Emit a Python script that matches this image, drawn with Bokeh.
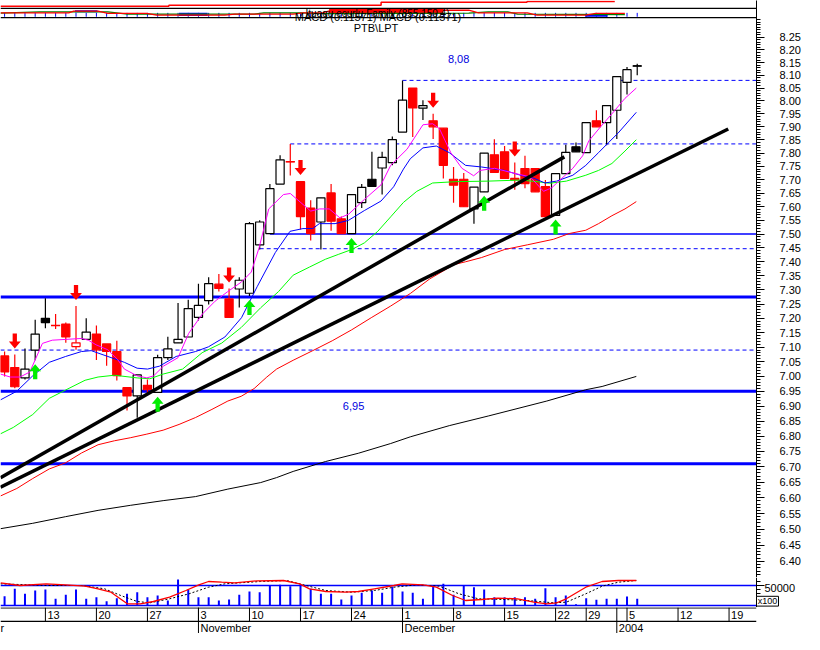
import math
from bokeh.plotting import figure
from bokeh.models import Range1d, FixedTicker, PrintfTickFormatter
from bokeh.layouts import column
from bokeh.embed import file_html
from bokeh.resources import INLINE
from bokeh.core.properties import value

FONT = "Liberation Sans"
BLUE = "#0000FF"
RED = "#FF0000"
MAGENTA = "#FF00FF"
BLACK = "#000000"

# ---------------- data ----------------
day_index = list(range(-4, 59))
open_px = [7.07, 7.03, 6.995, 7.09, 7.20, 7.175, 7.18, 7.102, 7.127, 7.145,
           7.111, 7.085, 6.962, 6.934, 6.97, 6.946, 7.064, 7.115, 7.135, 7.203,
           7.262, 7.32, 7.268, 7.303, 7.288, 7.461, 7.502, 7.684, 7.768, 7.693,
           7.595, 7.544, 7.651, 7.556, 7.502, 7.615, 7.702, 7.744, 7.764, 7.88,
           8.05, 7.972, 7.923, 7.895, 7.702, 7.702, 7.592, 7.655, 7.794, 7.805,
           7.705, 7.742, 7.742, 7.675, 7.568, 7.723, 7.824, 7.802, 7.923, 7.916,
           7.964, 8.072, 8.137]
high_px = [7.085, 7.075, 7.095, 7.195, 7.27, 7.215, 7.185, 7.243, 7.20, 7.175,
           7.111, 7.122, 6.962, 7.005, 6.99, 7.074, 7.136, 7.254, 7.265, 7.322,
           7.345, 7.356, 7.305, 7.345, 7.544, 7.55, 7.684, 7.792, 7.835, 7.695,
           7.624, 7.633, 7.684, 7.564, 7.645, 7.684, 7.805, 7.805, 7.863, 8.08,
           8.05, 8.003, 7.95, 7.895, 7.748, 7.725, 7.673, 7.80, 7.853, 7.827,
           7.765, 7.79, 7.742, 7.699, 7.723, 7.832, 7.84, 7.916, 7.964, 7.982,
           8.095, 8.133, 8.145]
low_px = [7.00, 6.96, 6.99, 7.055, 7.165, 7.163, 7.115, 7.091, 7.125, 7.056,
          7.036, 6.986, 6.885, 6.861, 6.945, 6.945, 7.056, 7.115, 7.135, 7.192,
          7.248, 7.294, 7.203, 7.238, 7.278, 7.444, 7.50, 7.684, 7.716, 7.517,
          7.477, 7.444, 7.512, 7.50, 7.50, 7.595, 7.675, 7.645, 7.754, 7.88,
          7.861, 7.926, 7.854, 7.705, 7.615, 7.60, 7.538, 7.655, 7.728, 7.705,
          7.663, 7.668, 7.655, 7.564, 7.568, 7.723, 7.805, 7.802, 7.90, 7.83,
          7.854, 8.025, 8.10]
close_px = [7.015, 6.965, 7.025, 7.145, 7.185, 7.175, 7.135, 7.115, 7.152, 7.091,
            7.085, 7.003, 6.934, 7.005, 6.955, 7.064, 7.094, 7.127, 7.234, 7.245,
            7.322, 7.305, 7.203, 7.334, 7.538, 7.544, 7.667, 7.775, 7.768, 7.564,
            7.502, 7.633, 7.547, 7.502, 7.645, 7.672, 7.675, 7.784, 7.851, 8.003,
            7.973, 7.982, 7.90, 7.754, 7.68, 7.60, 7.673, 7.80, 7.728, 7.705,
            7.70, 7.686, 7.655, 7.564, 7.723, 7.803, 7.805, 7.916, 7.90, 7.982,
            8.095, 8.122, 8.137]
volume = [23250, 41750, 29250, 37500, 40000, 16750, 26750, 40000, 16750, 20750,
          10750, 18250, 29250, 33250, 20750, 25000, 12500, 65000, 40000, 20750,
          20750, 12500, 15000, 26750, 35000, 33250, 50000, 51750, 48250, 50000,
          41750, 29250, 29250, 15000, 25000, 31750, 37500, 31750, 47000, 35000,
          31750, 16750, 48250, 54250, 26750, 50000, 45750, 40000, 20750, 20750,
          20750, 20750, 16750, 43250, 20750, 25000, 3000, 18250, 14250, 16750,
          16750, 22500, 16750]

sell_days = [-3, 3, 18, 25, 38, 46]
buy_days = [-1, 11, 20, 30, 43, 50]

# moving averages
mag_idx = [-4.4, -3.44, -2.49, -1.53, -0.29, 0.67, 3.54, 4.21, 4.97, 6.12, 7.07, 7.74, 8.99, 9.94,
           10.61, 11.57, 13.0, 14.05, 15.39, 16.63, 17.88, 19.22, 20.17, 20.94, 21.89, 23.33, 24.0,
           26.0, 26.86, 27.82, 28.87, 29.73, 31.26, 32.89, 33.84, 35.44, 37.0, 37.95, 38.62, 39.74,
           40.82, 41.97, 42.61, 44.04, 45.96, 47.51, 48.82, 49.62, 50.26, 51.69, 52.65, 53.25, 54.4,
           55.52, 56.8, 57.91]
mag_price = [7.008, 6.998, 6.998, 7.015, 7.113, 7.124, 7.130, 7.124, 7.108, 7.091, 7.058, 7.025,
             7.002, 6.995, 7.002, 7.035, 7.064, 7.148, 7.215, 7.26, 7.294, 7.328, 7.363, 7.45,
             7.592, 7.645, 7.649, 7.584, 7.592, 7.592, 7.559, 7.573, 7.627, 7.681, 7.754, 7.815,
             7.908, 7.912, 7.893, 7.801, 7.743, 7.715, 7.735, 7.743, 7.724, 7.711, 7.657, 7.670,
             7.693, 7.743, 7.79, 7.846, 7.90, 7.95, 8.01, 8.05]
blue_idx = [-4.4, -2.8, -1.24, 0.38, 1.98, 3.54, 4.49, 6.12, 7.74, 8.99, 10.01, 11.19, 12.81,
            14.72, 15.97, 17.59, 19.22, 20.75, 22.53, 23.97, 25.24, 26.2, 26.84, 28.39, 29.7,
            31.26, 32.89, 34.13, 35.09, 35.76, 37.0, 38.31, 39.58, 41.18, 42.73, 45.0, 46.56,
            47.87, 48.95, 50.1, 51.69, 52.96, 54.21, 55.16, 56.12, 57.91]
blue_price = [6.921, 6.95, 7.002, 7.048, 7.068, 7.085, 7.088, 7.068, 7.048, 7.028, 7.025, 7.035,
              7.068, 7.085, 7.101, 7.135, 7.202, 7.311, 7.433, 7.51, 7.52, 7.52, 7.538, 7.538,
              7.55, 7.586, 7.621, 7.674, 7.74, 7.779, 7.82, 7.827, 7.802, 7.754, 7.748, 7.735,
              7.717, 7.706, 7.688, 7.695, 7.717, 7.754, 7.802, 7.839, 7.876, 7.956]
green_idx = [-4.4, -3.15, -1.24, 0.38, 1.98, 3.89, 5.16, 6.76, 8.99, 10.23, 11.54, 13.45, 15.36,
             17.28, 19.19, 21.1, 22.85, 24.28, 25.88, 27.44, 28.75, 30.02, 31.26, 32.57, 33.84,
             35.09, 36.4, 37.95, 40.22, 43.4, 46.56, 48.18, 49.43, 51.05, 52.96, 54.21, 55.52,
             56.8, 57.91]
green_price = [6.808, 6.829, 6.872, 6.926, 6.954, 6.987, 6.998, 7.004, 6.995, 6.992, 7.008, 7.025,
               7.081, 7.114, 7.168, 7.237, 7.294, 7.352, 7.381, 7.409, 7.427, 7.444, 7.468, 7.51,
               7.563, 7.616, 7.657, 7.688, 7.693, 7.695, 7.699, 7.693, 7.687, 7.695, 7.717, 7.735,
               7.761, 7.808, 7.851]
red_idx = [-4.4, -2.8, -1.24, 0.38, 1.98, 3.54, 5.16, 6.76, 8.32, 9.94, 11.54, 13.1, 14.72, 16.32,
           17.88, 19.19, 20.46, 21.7, 22.66, 24.28, 26.2, 28.11, 30.02, 31.93, 33.84, 35.76, 37.67,
           40.06, 41.18, 42.73, 45.0, 47.23, 49.78, 51.34, 52.96, 54.21, 55.52, 56.8, 57.91]
red_price = [6.606, 6.63, 6.662, 6.693, 6.713, 6.745, 6.772, 6.785, 6.795, 6.807, 6.82, 6.839,
             6.862, 6.889, 6.917, 6.933, 6.959, 6.998, 7.025, 7.055, 7.088, 7.122, 7.16, 7.202,
             7.243, 7.287, 7.339, 7.39, 7.40, 7.415, 7.444, 7.461, 7.481, 7.502, 7.514, 7.538,
             7.567, 7.592, 7.619]
black_idx = [-4.4, -1.24, 1.98, 5.16, 8.32, 11.54, 14.72, 17.88, 21.1, 22.66, 24.28, 27.44, 30.66,
             33.84, 35.76, 39.58, 43.4, 49.14, 52.96, 54.56, 57.91]
black_price = [6.502, 6.519, 6.54, 6.56, 6.576, 6.591, 6.604, 6.628, 6.649, 6.665, 6.685, 6.717,
               6.744, 6.776, 6.798, 6.835, 6.867, 6.917, 6.955, 6.966, 7.0]

# trend lines
trend_a_idx = [-4.4, 50.86]
trend_a_price = [6.665, 7.786]
trend_b_idx = [-4.4, 66.92]
trend_b_price = [6.634, 7.892]

# horizontal levels
dash_levels = [8.08, 7.835, 7.447, 7.09]
dash_start = [35, 24, 21, None]
thin_levels = [7.50]
thin_start = [22]
thick_levels = [7.275, 6.95, 6.71]
level_text = ["8,08", "6,95"]
level_text_idx = [40.5, 30.2]
level_text_price = [8.08, 6.95]

# volume panel lines
vred_idx = [-4.4, -2.49, 0.07, 1.98, 3.89, 5.16, 6.43, 8.03, 9.3, 10.58, 12.17, 13.77, 15.04, 15.99,
            17.28, 18.55, 20.77, 23.33, 24.92, 25.88, 27.47, 29.38, 30.66, 32.25, 34.16, 34.96,
            37.03, 38.31, 39.9, 41.18, 42.76, 44.36, 46.27, 47.87, 49.14, 50.1, 51.05, 52.96,
            54.56, 56.15, 57.91]
vred_val = [56750, 50000, 54250, 51750, 48250, 41750, 33250, 4250, 4250, 10000, 20750, 37500,
            51750, 60000, 58250, 56750, 61750, 62500, 54250, 41750, 35000, 33250, 35000, 41750,
            50000, 54250, 51750, 45750, 25000, 12500, 15000, 18250, 16750, 8250, 4250, 6750,
            16750, 45750, 60000, 62500, 62500]
vblk_idx = [-4.4, 0.07, 3.57, 5.8, 7.39, 8.99, 10.26, 12.17, 14.08, 15.99, 17.59, 21.1, 23.64,
            25.55, 27.47, 30.02, 32.25, 34.16, 36.4, 38.62, 40.53, 42.45, 45.0, 47.23, 49.78,
            51.05, 52.96, 54.56, 56.15, 57.91]
vblk_val = [54250, 50000, 50000, 41750, 25000, 10000, 6750, 16750, 29250, 45750, 54250, 60000,
            62500, 50000, 37500, 33250, 37500, 45750, 51750, 48250, 29250, 16750, 15000, 12500,
            6750, 8250, 29250, 48250, 58250, 62500]
vol_ticks = [50000]
vol_tick_label = ["50000"]
vol_scale_text = "x100"

# indicator strips at the top (strip height units, 0 = bottom of strip)
strip_red_idx = [-4.4, 12.1, 32.9, 47.2, 55.8]
strip_red_val = [12, 13, 16.3, 17, 17]
strip_blk_left = [2.9, 13.1, 52.9]
strip_blk_right = [5.1, 15.9, 55.1]
strip_blk_top = [8, 5.3, 4]
strip_blk_bottom = [6, 2, 1.3]
strip_fill_left = [27.8]
strip_fill_right = [39.0]
strip_fill_top = [10]
strip_fill_bottom = [4.5]
strip_green_idx = [-4.4, -0.57, 6.12, 8.03, 20.46, 21.41, 25.24, 27.15, 41.49, 43.4, 45.32, 46.27, 56.79]
strip_green_val = [5, 6.3, 6.3, 4, 4, 5.3, 5.3, 4.5, 5, 6.3, 6.3, 4, 3.5]
strip_osc_idx = [-4.4, 2.29, 2.77, 5.16, 6.12, 9.94, 10.9, 17.59, 18.55, 24.28, 25.24, 27.15,
                 28.11, 41.49, 42.45, 47.23, 48.18, 52.96, 53.92, 56.79]
strip_osc_val = [5.3, 5.3, 7, 7, 4.7, 4.7, 3, 3, 4, 4, 5.3, 5.3, 8, 8, 5.3, 5.3, 3, 3, 4.7, 4.7]

title_lines = ["Ituaqu ecurlu Family (855,150.4)", "MACD (0.11571) MACD (0.11571)", "PTB\\LPT"]

price_ticks = [6.40, 6.45, 6.50, 6.55, 6.60, 6.65, 6.70, 6.75, 6.80, 6.85, 6.90, 6.95, 7.00,
               7.05, 7.10, 7.15, 7.20, 7.25, 7.30, 7.35, 7.40, 7.45, 7.50, 7.55, 7.60, 7.65,
               7.70, 7.75, 7.80, 7.85, 7.90, 7.95, 8.00, 8.05, 8.10, 8.15, 8.20, 8.25]
day_tick_idx = [0, 5, 10, 15, 20, 25, 30, 35, 40, 45, 50, 53, 57, 62, 67]
day_tick_label = ["13", "20", "27", "3", "10", "17", "24", "1", "8", "15", "22", "29", "5", "12", "19"]
month_idx = [15, 35, 56]
month_label = ["November", "December", "2004"]
month_tail = "r"   # last letter of "October", all that shows at the left edge

# ---------------- layout constants ----------------
FRAME_W = 756
RIGHT_W = 46
MAIN_H = 577
VOL_H = 30
DATE_H = 26
X0, X1 = -4.40, 69.69
PX_IDX = (X1 - X0) / FRAME_W          # index units per pixel
Y_MIN, Y_STRIP, Y_TOP = 6.35, 8.328, 8.399
LN_PX = math.log(Y_TOP / Y_MIN) / MAIN_H


def up(price, px):
    return price * math.exp(px * LN_PX)


def strip_y(v):
    return Y_STRIP * (Y_TOP / Y_STRIP) ** (v / 18.0)


def base_fig(h, x_rng, y_rng, right, **kw):
    f = figure(frame_width=FRAME_W + (RIGHT_W if right == 0 else 0), frame_height=h,
               x_range=x_rng, y_range=y_rng,
               output_backend="svg", toolbar_location=None, x_axis_location=None,
               min_border_left=0, min_border_right=right, min_border_top=0,
               min_border_bottom=0, **kw)
    f.outline_line_color = None
    f.xgrid.visible = False
    f.ygrid.visible = False
    return f


x_range = Range1d(X0, X1)

# ---------------- main price panel ----------------
p = base_fig(MAIN_H, x_range, Range1d(Y_MIN, Y_TOP), RIGHT_W,
             y_axis_type="log", y_axis_location="right")
ax = p.yaxis[0]
ax.ticker = FixedTicker(ticks=price_ticks,
                        minor_ticks=[round(6.36 + 0.01 * k, 2) for k in range(197)])
ax.formatter = PrintfTickFormatter(format="%.2f")
ax.major_label_text_font = FONT
ax.major_label_text_font_size = "11px"
ax.major_label_text_color = BLACK
ax.major_tick_out = 8
ax.major_tick_in = 0
ax.minor_tick_out = 4
ax.minor_tick_in = 0
ax.major_label_standoff = 15
ax.axis_line_color = BLACK

# strips at the top
p.quad(left=strip_fill_left, right=strip_fill_right,
       top=[strip_y(v) for v in strip_fill_top], bottom=[strip_y(v) for v in strip_fill_bottom],
       fill_color=RED, line_color=None)
p.segment(x0=day_index, y0=[strip_y(1.3)] * len(day_index), x1=day_index,
          y1=[strip_y(5.3)] * len(day_index), line_color=BLUE, line_width=1)
p.quad(left=strip_blk_left, right=strip_blk_right,
       top=[strip_y(v) for v in strip_blk_top], bottom=[strip_y(v) for v in strip_blk_bottom],
       fill_color=BLUE, line_color=None)
p.line(strip_green_idx, [strip_y(v) for v in strip_green_val], line_color="#008000", line_width=1.3)
p.line(strip_osc_idx, [strip_y(v) for v in strip_osc_val], line_color=RED, line_width=1.3)
p.step(strip_red_idx, [strip_y(v) for v in strip_red_val], mode="after", line_color=RED, line_width=1.5)
p.segment(x0=[X0, X0], y0=[strip_y(10), strip_y(0.4)], x1=[X1, X1],
          y1=[strip_y(10), strip_y(0.4)], line_color=BLACK, line_width=1.3)

# horizontal levels
p.segment(x0=[X0 if s is None else s for s in dash_start], y0=dash_levels,
          x1=[X1] * len(dash_levels), y1=dash_levels, line_color=BLUE, line_width=1, line_dash="4 3")
p.segment(x0=thin_start, y0=thin_levels, x1=[X1] * len(thin_levels), y1=thin_levels,
          line_color=BLUE, line_width=1.5)
p.segment(x0=[X0] * len(thick_levels), y0=thick_levels, x1=[X1] * len(thick_levels),
          y1=thick_levels, line_color=BLUE, line_width=3)

# candles
prev_close = [open_px[0]] + close_px[:-1]
edge = [RED if c < pc else BLACK for c, pc in zip(close_px, prev_close)]
fill = [e if c < o else "white" for e, o, c in zip(edge, open_px, close_px)]
body_top = [max(o, c) for o, c in zip(open_px, close_px)]
body_bot = [min(o, c) for o, c in zip(open_px, close_px)]
p.segment(x0=day_index, y0=low_px, x1=day_index, y1=high_px, line_color=edge, line_width=1.2)
p.vbar(x=day_index, top=body_top, bottom=body_bot, width=0.8, fill_color=fill,
       line_color=edge, line_width=1.2)
flat = [k for k in range(len(day_index)) if abs(open_px[k] - close_px[k]) < 1e-9]
p.segment(x0=[day_index[k] - 0.45 for k in flat], y0=[close_px[k] for k in flat],
          x1=[day_index[k] + 0.45 for k in flat], y1=[close_px[k] for k in flat],
          line_color=[edge[k] for k in flat], line_width=1.5)

# moving averages
p.line(black_idx, black_price, line_color=BLACK, line_width=1)
p.line(red_idx, red_price, line_color=RED, line_width=1)
p.line(green_idx, green_price, line_color="#00FF00", line_width=1)
p.line(blue_idx, blue_price, line_color=BLUE, line_width=1)
p.line(mag_idx, mag_price, line_color=MAGENTA, line_width=1)

# trend lines
p.line(trend_a_idx, trend_a_price, line_color=BLACK, line_width=3.5)
p.line(trend_b_idx, trend_b_price, line_color=BLACK, line_width=3.5)


# signal arrows
def arrow(i, anchor, down):
    hw, sw = 0.58, 0.21
    if down:
        t = up(anchor, 6)
        ys = [t, up(t, 7), up(t, 7), up(t, 15), up(t, 15), up(t, 7), up(t, 7)]
    else:
        t = up(anchor, -4)
        ys = [t, up(t, -7), up(t, -7), up(t, -15), up(t, -15), up(t, -7), up(t, -7)]
    xs = [i, i - hw, i - sw, i - sw, i + sw, i + sw, i + hw]
    return xs, ys


sx, sy = zip(*[arrow(d, high_px[day_index.index(d)], True) for d in sell_days])
bx, by = zip(*[arrow(d, low_px[day_index.index(d)], False) for d in buy_days])
p.patches(list(sx), list(sy), fill_color=RED, line_color=None)
p.patches(list(bx), list(by), fill_color="#00EE00", line_color=None)

# level texts
p.text(x=[level_text_idx[0]], y=[level_text_price[0]], text=[level_text[0]], y_offset=-21,
       text_font=value(FONT), text_font_size="11px", text_color="#0000E0",
       text_align="center", text_baseline="middle")
p.text(x=[level_text_idx[1]], y=[level_text_price[1]], text=[level_text[1]], y_offset=15,
       text_font=value(FONT), text_font_size="11px", text_color="#0000E0",
       text_align="center", text_baseline="middle")

# header texts
p.text(x=[32.55], y=[strip_y(5)], text=[title_lines[0]], text_font=value(FONT),
       text_font_size="10px", text_color=BLACK, text_align="center", text_baseline="middle")
p.text(x=[32.6], y=[strip_y(1)], text=[title_lines[1]], text_font=value(FONT),
       text_font_size="11px", text_color=BLACK, text_align="center", text_baseline="middle")
p.text(x=[32.4], y=[Y_STRIP], y_offset=10, text=[title_lines[2]], text_font=value(FONT),
       text_font_size="11px", text_color=BLACK, text_align="center", text_baseline="middle")

# ---------------- volume panel (frame spans the axis column too) ----------------
v_xr = Range1d(X0, X0 + (FRAME_W + RIGHT_W) * PX_IDX)
v = base_fig(VOL_H, v_xr, Range1d(-5000, 70000), 0, y_axis_location=None)
v.segment(x0=[X0, X0], y0=[50000, 0], x1=[X1, X1], y1=[50000, 0], line_color=BLUE, line_width=1.5)
v.segment(x0=day_index, y0=[0] * len(day_index), x1=day_index, y1=volume,
          line_color=BLUE, line_width=2)
v.line(vblk_idx, vblk_val, line_color=BLACK, line_width=1, line_dash="2 2")
v.line(vred_idx, vred_val, line_color=RED, line_width=1.3)
# right-hand scale drawn by hand in the axis column
v.segment(x0=[X1], y0=[-5000], x1=[X1], y1=[70000], line_color=BLACK, line_width=1)
minor_v = [0, 10000, 20000, 30000, 40000, 60000]
v.segment(x0=[X1] * len(minor_v), y0=minor_v, x1=[X1 + 4 * PX_IDX] * len(minor_v), y1=minor_v,
          line_color=BLACK, line_width=1)
v.segment(x0=[X1] * len(vol_ticks), y0=vol_ticks, x1=[X1 + 8 * PX_IDX] * len(vol_ticks),
          y1=vol_ticks, line_color=BLACK, line_width=1)
v.text(x=[X1] * len(vol_ticks), y=vol_ticks, text=vol_tick_label, x_offset=8, y_offset=2,
       text_font=value(FONT), text_font_size="11px", text_align="left", text_baseline="middle")
v.quad(left=[X1], right=[X1 + 22 * PX_IDX], bottom=[-1500], top=[23000],
       fill_color="white", line_color=BLACK, line_width=1)
v.text(x=[X1 + 11 * PX_IDX], y=[11000], text=[vol_scale_text], text_font=value(FONT),
       text_font_size="9px", text_align="center", text_baseline="middle")

# ---------------- date axis ----------------
d = base_fig(DATE_H, x_range, Range1d(0, 28), RIGHT_W, y_axis_location=None)
d.segment(x0=[X0, X0], y0=[27.6, 13], x1=[X1, X1], y1=[27.6, 13], line_color=BLACK, line_width=1.2)
d.segment(x0=day_tick_idx, y0=[13] * len(day_tick_idx), x1=day_tick_idx,
          y1=[28] * len(day_tick_idx), line_color=BLACK, line_width=1)
d.segment(x0=month_idx, y0=[0] * len(month_idx), x1=month_idx, y1=[28] * len(month_idx),
          line_color=BLACK, line_width=1)
d.text(x=day_tick_idx, y=[20.3] * len(day_tick_idx), text=day_tick_label, x_offset=2,
       text_font=value(FONT), text_font_size="11px", text_align="left", text_baseline="middle")
d.text(x=month_idx, y=[6.3] * len(month_idx), text=month_label, x_offset=2,
       text_font=value(FONT), text_font_size="11px", text_align="left", text_baseline="middle")
d.text(x=[X0], y=[6.3], text=[month_tail], x_offset=0,
       text_font=value(FONT), text_font_size="11px", text_align="left", text_baseline="middle")

layout = column(p, v, d, spacing=0)
open("out.html", "w").write(file_html(layout, INLINE, title="chart"))
